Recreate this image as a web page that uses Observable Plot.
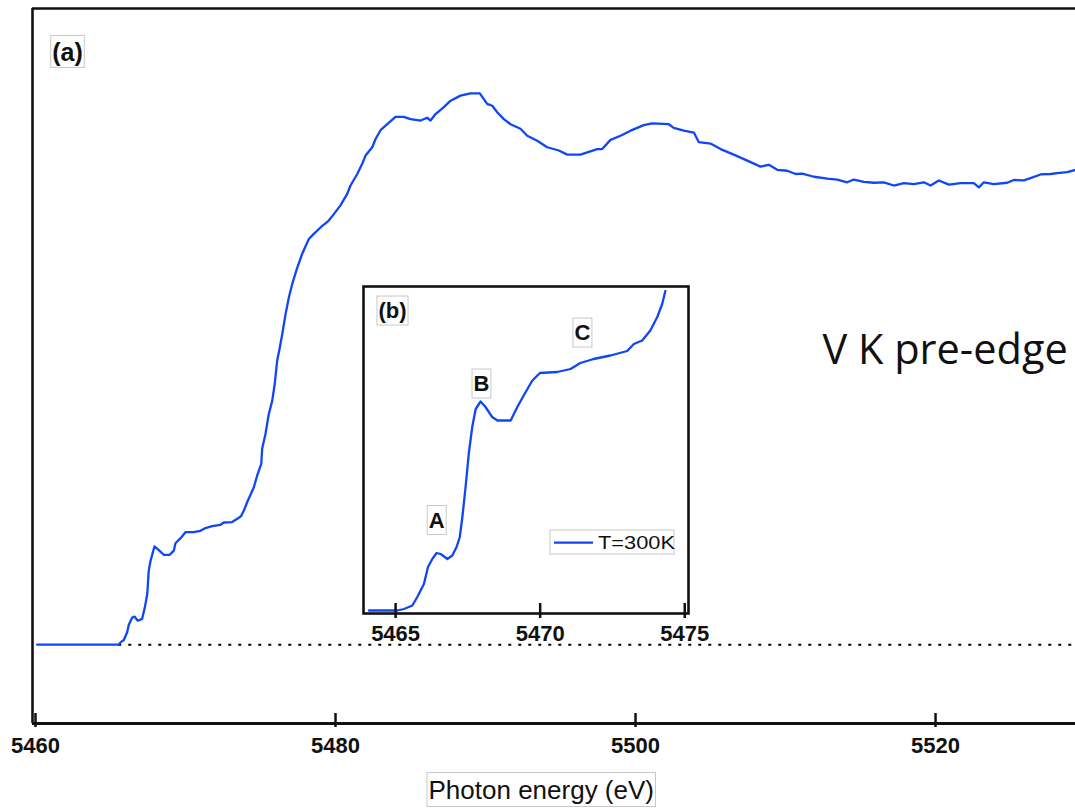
<!DOCTYPE html>
<html><head><meta charset="utf-8">
<script src="https://cdn.jsdelivr.net/npm/d3@7"></script>
<script src="https://cdn.jsdelivr.net/npm/@observablehq/plot@0.6"></script>
<style>
html,body{margin:0;padding:0;background:#fff;overflow:hidden;}
#wrap{position:relative;width:1075px;height:808px;}
#wrap svg{position:absolute;}
</style></head><body><div id="wrap"></div>
<script>
// Main spectrum (a): photon energy (eV) and normalized absorption
const energy = [5460.11,5465.55,5465.67,5465.89,5466.11,5466.22,5466.45,5466.60,5466.82,5467.11,5467.29,5467.45,5467.55,5467.67,5467.93,5468.22,5468.55,5468.95,5469.22,5469.33,5469.67,5470.00,5470.55,5471.00,5471.33,5471.78,5472.33,5472.55,5473.11,5473.45,5473.71,5473.89,5474.11,5474.55,5474.78,5475.05,5475.11,5475.33,5475.55,5475.78,5475.95,5476.11,5476.29,5476.45,5476.67,5476.89,5477.11,5477.45,5477.78,5478.22,5478.55,5479.00,5479.55,5479.89,
5480.33,5480.78,5481.00,5481.45,5481.78,5482.00,5482.45,5482.67,5483.00,5483.45,5484.00,5484.55,5485.00,5485.67,5486.11,5486.33,5486.67,5487.22,5487.67,5488.33,5489.00,5489.62,5490.11,5490.45,5490.78,5491.22,5491.67,5492.33,5492.78,5493.45,5494.11,5494.89,5495.45,5496.33,5496.78,5497.45,5497.78,5498.33,5499.00,5499.67,5500.55,5501.11,5502.22,5502.55,5503.22,5503.89,5504.22,5505.00,5505.67,5506.55,5507.45,5508.33,5508.89,5509.45,5510.11,5510.67,5511.11,5511.89,5512.78,5513.45,5514.11,5514.55,5515.22,5515.89,5516.55,5517.22,5517.89,5518.55,5519.22,5519.67,5520.22,5520.89,5521.67,5522.55,5522.89,5523.22,5523.89,5524.78,5525.22,5525.89,5526.33,5527.00,5527.67,5528.11,5528.78,5529.33];
const absorbance = [0,0,0.005,0.010,0.027,0.043,0.059,0.061,0.052,0.056,0.081,0.110,0.161,0.182,0.213,0.205,0.195,0.195,0.204,0.220,0.231,0.244,0.244,0.247,0.253,0.257,0.260,0.265,0.266,0.273,0.279,0.291,0.309,0.341,0.367,0.392,0.425,0.457,0.500,0.529,0.566,0.616,0.645,0.674,0.717,0.753,0.782,0.818,0.848,0.880,0.891,0.905,0.920,0.934,
0.953,0.978,0.996,1.021,1.043,1.061,1.079,1.097,1.116,1.129,1.145,1.145,1.140,1.137,1.143,1.137,1.151,1.166,1.180,1.191,1.196,1.196,1.173,1.169,1.155,1.140,1.129,1.119,1.104,1.093,1.079,1.072,1.063,1.063,1.068,1.075,1.075,1.095,1.104,1.115,1.127,1.131,1.129,1.121,1.115,1.111,1.090,1.087,1.075,1.063,1.050,1.037,1.041,1.030,1.028,1.021,1.022,1.015,1.011,1.009,1.003,1.009,1.004,1.002,1.003,0.996,1.001,0.999,1.003,0.996,1.007,0.998,1.001,1.001,0.992,1.003,0.999,1.002,1.008,1.007,1.012,1.020,1.021,1.023,1.025,1.030];

// Inset (b): pre-edge region
const insetEnergy = [5464.08,5465.06,5465.29,5465.58,5465.75,5465.98,5466.12,5466.27,5466.42,5466.56,5466.79,5466.96,5467.11,5467.22,5467.31,5467.42,5467.53,5467.65,5467.77,5467.94,5468.11,5468.34,5468.52,5468.98,5469.21,5469.43,5469.73,5469.99,5470.59,5471.05,5471.39,5471.85,5472.43,5473.01,5473.24,5473.53,5473.81,5474.05,5474.22,5474.33];
const insetAbsorbance = [0,0,0.003,0.010,0.027,0.053,0.087,0.103,0.115,0.113,0.103,0.110,0.127,0.147,0.187,0.247,0.313,0.367,0.403,0.418,0.407,0.387,0.380,0.380,0.407,0.430,0.460,0.475,0.477,0.483,0.495,0.503,0.510,0.519,0.533,0.540,0.560,0.587,0.613,0.639];

const xTicks = [5460, 5480, 5500, 5520];
const insetTicks = [5465, 5470, 5475];
const xDomain = [5459.8, 5529.33];
const yDomain = [-0.171, 1.38];
const insetXDomain = [5463.89, 5475.13];
const insetYDomain = [-0.006, 0.648];
const baselineStart = 5465.55;

const peakLabels = ["A", "B", "C"];
const peakEnergy = [5466.42, 5467.97, 5471.46];
const peakLevel = [0.18, 0.453, 0.555];

const panelA = "(a)";
const panelB = "(b)";
const xLabel = "Photon energy (eV)";
const edgeLabel = "V K pre-edge";
const legendLabel = "T=300K";

const blue = "#1046f5";
const ink = "#111";
const FONT = "'Liberation Sans', Arial, sans-serif";

const mainData = energy.map((e, i) => ({e, a: absorbance[i]}));
const insetData = insetEnergy.map((e, i) => ({e, a: insetAbsorbance[i]}));

const main = Plot.plot({
  width: 1075, height: 808,
  marginLeft: 32, marginRight: 0, marginTop: 8, marginBottom: 85,
  x: {domain: xDomain, axis: null},
  y: {domain: yDomain, axis: null},
  style: {fontFamily: FONT, background: "white"},
  marks: [
    Plot.ruleY([0], {x1: baselineStart, x2: xDomain[1], stroke: "#000", strokeWidth: 2, strokeDasharray: "3,7"}),
    Plot.line(mainData, {x: "e", y: "a", stroke: blue, strokeWidth: 2.3}),
    Plot.ruleY([yDomain[1]], {stroke: ink, strokeWidth: 2.6}),
    Plot.ruleY([yDomain[0]], {stroke: ink, strokeWidth: 3}),
    Plot.ruleX([xDomain[0]], {stroke: ink, strokeWidth: 2.6}),
    Plot.ruleX(xTicks, {x: d => d, y1: yDomain[0], y2: yDomain[0], insetTop: -10, insetBottom: -4, stroke: ink, strokeWidth: 2.5}),
    Plot.text(xTicks, {x: d => d, y: yDomain[0], dy: 22, text: d => String(d), fontSize: 22, fontWeight: "bold", fill: ink}),
    Plot.text([panelA], {frameAnchor: "top-left", dx: 35, dy: 44, text: d => d, textAnchor: "middle", lineAnchor: "middle", fontSize: 25, fontWeight: "bold", fill: ink, ariaDescription: "boxed"}),
    Plot.text([edgeLabel], {frameAnchor: "top-left", dx: 790, dy: 355, text: d => d, textAnchor: "start", lineAnchor: "bottom", fontSize: 41.5, fontFamily: "'Open Sans', sans-serif", fill: ink}),
    Plot.text([xLabel], {frameAnchor: "bottom-left", dx: 396, dy: 75, text: d => d, textAnchor: "start", lineAnchor: "bottom", fontSize: 26, fill: ink, ariaDescription: "boxed"})
  ]
});

const inset = Plot.plot({
  width: 360, height: 375,
  marginLeft: 13, marginTop: 16, marginRight: 22, marginBottom: 32,
  x: {domain: insetXDomain, axis: null},
  y: {domain: insetYDomain, axis: null},
  style: {fontFamily: FONT, background: "transparent", overflow: "visible"},
  marks: [
    Plot.frame({stroke: ink, strokeWidth: 2.6}),
    Plot.line(insetData, {x: "e", y: "a", stroke: blue, strokeWidth: 2.3}),
    Plot.ruleX(insetTicks, {x: d => d, y1: insetYDomain[0], y2: insetYDomain[0], insetTop: -10, insetBottom: -5, stroke: ink, strokeWidth: 2.5}),
    Plot.text(insetTicks, {x: d => d, y: insetYDomain[0], dy: 20, text: d => String(d), fontSize: 22, fontWeight: "bold", fill: ink}),
    Plot.text([panelB], {frameAnchor: "top-left", dx: 29, dy: 24.5, text: d => d, textAnchor: "middle", lineAnchor: "middle", fontSize: 22, fontWeight: "bold", fill: ink, ariaDescription: "boxed"}),
    Plot.text(peakLabels, {x: (d, i) => peakEnergy[i], y: (d, i) => peakLevel[i], text: d => d, fontSize: 22, fontWeight: "bold", fill: ink, ariaDescription: "boxed"})
  ]
});

const wrap = document.getElementById("wrap");
main.style.left = "0px"; main.style.top = "0px";
inset.style.left = "350px"; inset.style.top = "270px";
wrap.appendChild(main);
wrap.appendChild(inset);

// Legend for the inset
const leg = d3.select(inset).append("g").attr("text-anchor", "start");
leg.append("rect").attr("x", 200).attr("y", 260).attr("width", 124).attr("height", 24)
  .attr("fill", "white").attr("stroke", "#c8c8c8").attr("stroke-width", 1);
leg.append("line").attr("x1", 204).attr("x2", 243).attr("y1", 272.7).attr("y2", 272.7)
  .attr("stroke", blue).attr("stroke-width", 2.3);
leg.append("text").attr("x", 248).attr("y", 278.5).attr("font-size", 19)
  .attr("text-anchor", "start")
  .attr("font-family", FONT).attr("fill", ink)
  .attr("textLength", 77).attr("lengthAdjust", "spacingAndGlyphs").text(legendLabel);

// Thin grey boxes around labelled texts
function boxTexts(svg) {
  d3.select(svg).selectAll('g[aria-description="boxed"] text').each(function () {
    const b = this.getBBox();
    const r = document.createElementNS("http://www.w3.org/2000/svg", "rect");
    r.setAttribute("x", b.x - 1.5);
    r.setAttribute("y", b.y - 2);
    r.setAttribute("width", b.width + 3);
    r.setAttribute("height", b.height + 4);
    r.setAttribute("fill", "white");
    r.setAttribute("stroke", "#c8c8c8");
    r.setAttribute("stroke-width", 1);
    const t = this.getAttribute("transform");
    if (t) r.setAttribute("transform", t);
    this.parentNode.insertBefore(r, this);
  });
}
boxTexts(main);
boxTexts(inset);
</script></body></html>
